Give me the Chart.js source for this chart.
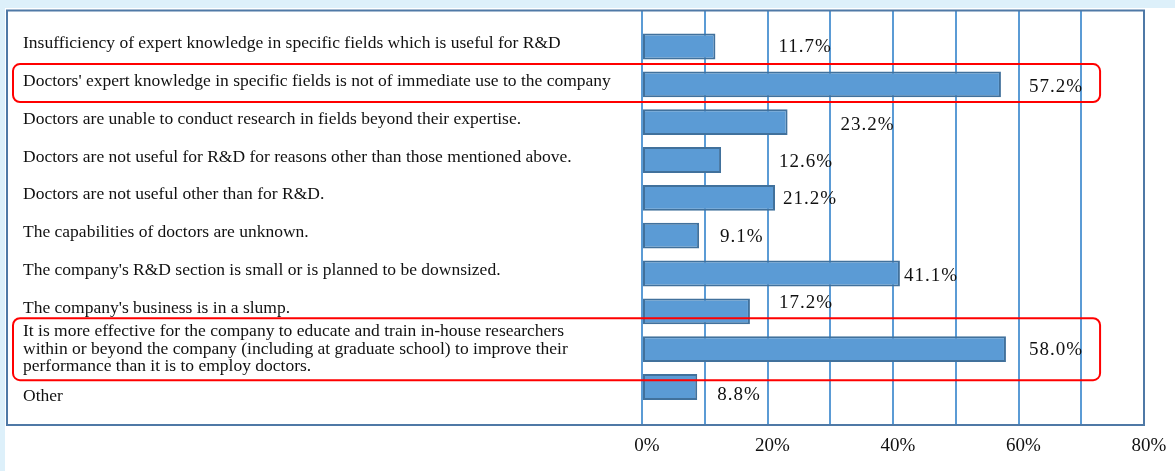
<!DOCTYPE html>
<html>
<head>
<meta charset="utf-8">
<title>Reasons for not employing doctors</title>
<style>
  html, body { margin: 0; padding: 0; background: #ffffff; }
  #wrap { position: relative; width: 1175px; height: 471px; }
  canvas { display: block; }
</style>
<script src="https://cdn.jsdelivr.net/npm/chart.js@4.4.1/dist/chart.umd.min.js"></script>
</head>
<body>
<div id="wrap"><canvas id="chart" width="1175" height="471"></canvas></div>
<script>
// Survey reasons (one per bar, top to bottom)
const reasons = [
  "Insufficiency of expert knowledge in specific fields which is useful for R&D",
  "Doctors' expert knowledge in specific fields is not of immediate use to the company",
  "Doctors are unable to conduct research in fields beyond their expertise.",
  "Doctors are not useful for R&D for reasons other than those mentioned above.",
  "Doctors are not useful other than for R&D.",
  "The capabilities of doctors are unknown.",
  "The company's R&D section is small or is planned to be downsized.",
  "The company's business is in a slump.",
  ["It is more effective for the company to educate and train in-house researchers",
   "within or beyond the company (including at graduate school) to improve their",
   "performance than it is to employ doctors."],
  "Other"
];

// Share of companies giving each reason (%)
const shares = [11.7, 57.2, 23.2, 12.6, 21.2, 9.1, 41.1, 17.2, 58.0, 8.8];

// Labelled percentages on the horizontal axis
const axisTicks = [0, 20, 40, 60, 80];

// Rows outlined in red
const highlighted = [1, 8];

const SERIF = '"Liberation Serif", "Times New Roman", serif';

// Page backdrop, frame, value labels and red outlines
const decorations = {
  id: 'decorations',
  beforeDraw(chart) {
    const { ctx, width, height } = chart;
    ctx.save();
    ctx.fillStyle = '#ddf0fa';
    ctx.fillRect(0, 0, width, height);
    ctx.fillStyle = '#ffffff';
    ctx.fillRect(5, 8, width - 5, height - 8);
    ctx.restore();
  },
  afterDraw(chart, args, opts) {
    const { ctx, chartArea } = chart;
    const xScale = chart.scales.x;
    const meta = chart.getDatasetMeta(0);
    ctx.save();

    // value labels beside the bars
    ctx.font = '19px ' + SERIF;
    ctx.fillStyle = '#111111';
    ctx.textAlign = 'left';
    ctx.textBaseline = 'middle';
    if ('letterSpacing' in ctx) ctx.letterSpacing = '1px';
    meta.data.forEach((bar, i) => {
      const [dx, dy] = opts.labelNudge[i];
      ctx.fillText(shares[i].toFixed(1) + '%', bar.x + dx, bar.y + dy);
    });
    if ('letterSpacing' in ctx) ctx.letterSpacing = '0px';

    // outer frame around labels and plot
    const frameLeft = 7, frameTop = chartArea.top;
    ctx.strokeStyle = '#4f79a6';
    ctx.lineWidth = 2;
    ctx.strokeRect(frameLeft, frameTop, chartArea.right - frameLeft, chartArea.bottom - frameTop);

    // red rounded outlines on the highlighted rows
    ctx.strokeStyle = '#ff0000';
    ctx.lineWidth = 2;
    opts.outlines.forEach(o => {
      const bar = meta.data[o.row];
      const left = frameLeft + 6;
      const right = xScale.getPixelForValue(o.toValue);
      const top = bar.y + o.dy - o.half;
      ctx.beginPath();
      ctx.roundRect(left, top, right - left, o.half * 2, 7);
      ctx.stroke();
    });
    ctx.restore();
  }
};

// Small vertical nudges (in row units) that keep the left-hand text rows
// clear of each other around the three-line entry
const rowTextShift = [-0.08, -0.08, -0.08, -0.08, -0.08, -0.08, -0.08, -0.09, 0, 0.25];

new Chart(document.getElementById('chart'), {
  type: 'bar',
  data: {
    datasets: [{
      data: shares.map((v, i) => ({ x: v, y: i })),
      backgroundColor: '#5b9bd5',
      borderColor: '#41719c',
      borderWidth: 2,
      borderSkipped: false,
      categoryPercentage: 1,
      barPercentage: 0.69
    }]
  },
  options: {
    indexAxis: 'y',
    responsive: false,
    animation: false,
    devicePixelRatio: 1,
    layout: { padding: { left: 23, right: 31, top: 10.5, bottom: 0 } },
    plugins: {
      legend: { display: false },
      tooltip: { enabled: false },
      decorations: {
        labelNudge: [
          [63, 0.5], [28, 2.5], [53, 2.5], [58, 2], [8, 1.2],
          [21, 1.3], [4, 2.5], [29, -8.5], [23, 1], [20, 8]
        ],
        outlines: highlighted.map((row, k) => (
          k === 0 ? { row, dy: -1.3, half: 19, toValue: 73 }
                  : { row, dy: 0, half: 31, toValue: 73 }
        ))
      }
    },
    scales: {
      x: {
        type: 'linear',
        position: 'bottom',
        min: 0,
        max: 80,
        z: 1,
        grid: { color: '#5b9bd5', lineWidth: 2, drawTicks: false },
        border: { display: false },
        ticks: {
          stepSize: 10,
          autoSkip: false,
          maxRotation: 0,
          padding: 10,
          labelOffset: 5,
          color: '#111111',
          font: { family: SERIF, size: 19 },
          callback: v => axisTicks.includes(v) ? v + '%' : ''
        },
        afterFit: s => { s.height = 46; }
      },
      y: {
        type: 'linear',
        position: 'left',
        reverse: true,
        offset: false,
        min: -0.952,
        max: 10.004,
        grid: { display: false, offset: false },
        border: { display: false },
        afterBuildTicks: s => {
          s.ticks = reasons.map((_, i) => ({ value: i + rowTextShift[i] }));
        },
        ticks: {
          crossAlign: 'far',
          padding: 0,
          autoSkip: false,
          color: '#111111',
          font: { family: SERIF, size: 17.5, lineHeight: 1.0 },
          callback: v => reasons[Math.round(v)]
        },
        afterFit: s => { s.width = 619; }
      }
    }
  },
  plugins: [decorations]
});
</script>
</body>
</html>
